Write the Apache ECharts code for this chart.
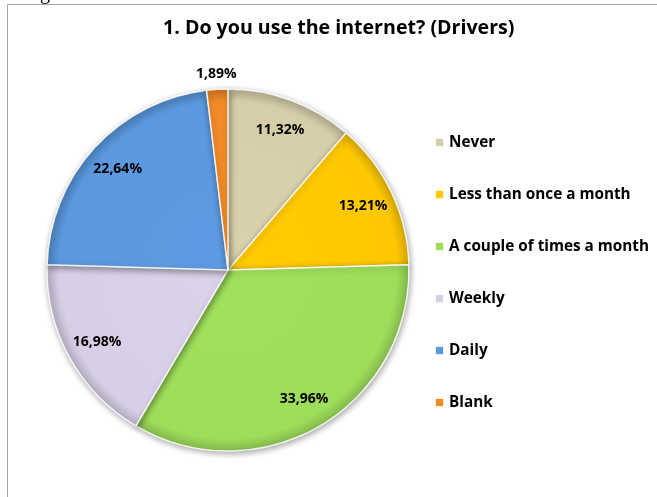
<!DOCTYPE html>
<html>
<head>
<meta charset="utf-8">
<script src="https://cdn.jsdelivr.net/npm/echarts@6/dist/echarts.min.js"></script>
<style>
  html, body { margin: 0; padding: 0; background: #ffffff; }
  #chart { width: 657px; height: 497px; }
</style>
</head>
<body>
<div id="chart"></div>
<script>
// Survey answers and their shares (percent)
const categories = ['Never', 'Less than once a month', 'A couple of times a month', 'Weekly', 'Daily', 'Blank'];
const shares = [11.32, 13.21, 33.96, 16.98, 22.64, 1.89];
const sliceColors = ['#D6CEA9', '#FFC800', '#9EDD5A', '#D8CFE6', '#5B98DE', '#F28A28'];
const titleText = '1. Do you use the internet? (Drivers)';

const FONT = '"Open Sans"';
const cx = 228, cy = 270, R = 181;

function shade(hex, f) {
  const n = parseInt(hex.slice(1), 16);
  const r = Math.round(((n >> 16) & 255) * f);
  const g = Math.round(((n >> 8) & 255) * f);
  const b = Math.round((n & 255) * f);
  return 'rgb(' + Math.min(r,255) + ',' + Math.min(g,255) + ',' + Math.min(b,255) + ')';
}

function fillFor(c) {
  return new echarts.graphic.RadialGradient(cx, cy, R, [
    { offset: 0, color: shade(c, 1.02) },
    { offset: 0.93, color: c },
    { offset: 1, color: shade(c, 0.85) }
  ], true);
}

const pieData = categories.map((name, i) => ({
  name: name,
  value: shares[i],
  itemStyle: { color: fillFor(sliceColors[i]) }
}));

const fmt = p => p.value.toFixed(2).replace('.', ',') + '%';

const labelStyle = {
  fontFamily: FONT, fontWeight: 'bold', fontSize: 14, color: '#000000'
};

const chart = echarts.init(document.getElementById('chart'), null, { renderer: 'canvas' });
chart.setOption({
  animation: false,
  color: sliceColors,
  title: {
    text: titleText,
    left: 158, top: 13,
    textStyle: { fontFamily: FONT, fontWeight: 'bold', fontSize: 19.6, color: '#000000' }
  },
  legend: {
    orient: 'vertical',
    left: 429, top: 130,
    itemWidth: 9, itemHeight: 9,
    itemGap: 37,
    icon: 'rect',
    data: categories.map((c, i) => ({ name: c, itemStyle: { color: sliceColors[i] } })),
    textStyle: { fontFamily: FONT, fontWeight: 'bold', fontSize: 15.3, color: '#000000' }
  },
  graphic: [
    { type: 'polyline', shape: { points: [[7.5, 497], [7.5, 4.5], [657, 4.5]] },
      style: { stroke: '#A6A6A6', lineWidth: 1, fill: null } },
    { type: 'text', left: 40, top: -16, style: { text: 'g', font: '20px "Liberation Serif"', fill: '#000' } }
  ],
  series: [
    {
      // the pie itself
      type: 'pie',
      center: [cx, cy], radius: R,
      startAngle: 90, clockwise: true,
      data: pieData,
      label: { show: false }, labelLine: { show: false },
      silent: true,
      itemStyle: {
        borderColor: 'rgba(255,255,255,0.85)', borderWidth: 1.5,
        shadowBlur: 6, shadowOffsetX: 1, shadowOffsetY: 2, shadowColor: 'rgba(0,0,0,0.35)'
      }
    },
    {
      // value labels placed in the outer band of each slice
      type: 'pie',
      center: [cx, cy], radius: [112, R],
      startAngle: 90, clockwise: true,
      silent: true,
      data: categories.map((name, i) => ({
        name: name, value: shares[i],
        label: { show: name !== 'Blank' }
      })),
      itemStyle: { color: 'rgba(0,0,0,0)' },
      label: Object.assign({ position: 'inside', formatter: fmt }, labelStyle),
      labelLine: { show: false }
    },
    {
      // label for the thin slice, just outside the rim
      type: 'pie',
      center: [cx, cy], radius: [R, 205],
      startAngle: 90, clockwise: true,
      silent: true,
      data: categories.map((name, i) => ({
        name: name, value: shares[i],
        label: { show: name === 'Blank' }
      })),
      itemStyle: { color: 'rgba(0,0,0,0)' },
      label: Object.assign({ position: 'inside', formatter: fmt }, labelStyle),
      labelLine: { show: false }
    }
  ]
});
</script>
</body>
</html>
